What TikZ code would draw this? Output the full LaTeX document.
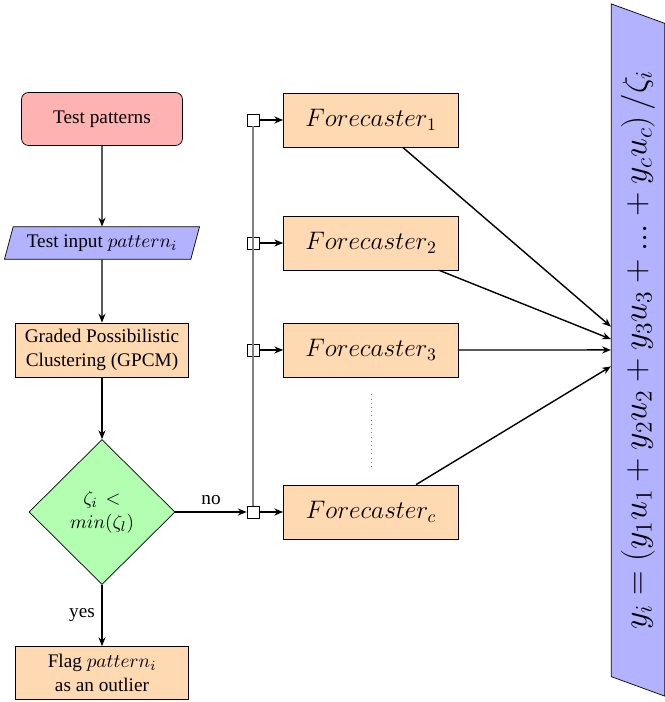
\documentclass[tikz,border=0pt,11pt]{standalone}
\usepackage{graphicx}
\usepackage[no-math]{fontspec}
\setmainfont{Liberation Serif}
\usetikzlibrary{shapes.geometric,arrows.meta}

\begin{document}
\begin{tikzpicture}[
            node distance = 2cm,
            startstop/.style={rectangle,rounded corners,draw,fill=red!30,
                minimum width=3.22cm,minimum height=1.06cm},
            io/.style={trapezium,trapezium left angle=75,trapezium right angle=105,
                draw,fill=blue!30,minimum height=0.6cm},
            process/.style={rectangle,draw,fill=orange!30,align=center,
                minimum width=3.46cm,minimum height=1.06cm},
            decision/.style={diamond,draw,fill=green!30,align=center,
                minimum width=2.92cm,minimum height=2.9cm,inner sep=0pt},
            forecaster/.style={process,minimum width=3.5cm,minimum height=1.08cm,
                font=\Large},
            joint/.style={rectangle,draw,fill=white,minimum size=0.24cm,inner sep=0pt},
            arrow/.style={thick,-{Stealth[length=5pt,width=4pt]}}]
            \useasboundingbox (0,0) rectangle (13.28,-14.04);
            % left column
            \node[startstop] at (2.04,-2.38) (test){Test patterns};
            \node[io,below of=test,node distance=2.48cm,minimum width=3.9cm](input){Test input $pattern_i$};
            \node[process,below of=input,node distance=2.14cm](gpcm){Graded Possibilistic\\Clustering (GPCM)};
            \node[decision,below of=gpcm,node distance=3.24cm](dec){$\zeta_i$ \,$<$\\$min(\zeta_l)$};
            \node[process,below of=dec,node distance=3.22cm](flag){Flag $pattern_i$\\as an outlier};
            % forecasters
            \node[joint,right of=dec,node distance=3.02cm](jc){};
            \node[forecaster,right of=jc,node distance=2.36cm](fc){$Forecaster_c$};
            \node[forecaster,above of=fc,node distance=3.24cm](f3){$Forecaster_3$};
            \node[forecaster,above of=f3,node distance=2.14cm](f2){$Forecaster_2$};
            \node[forecaster,above of=f2,node distance=2.46cm](f1){$Forecaster_1$};
            \node[joint,left of=f3,node distance=2.36cm](j3){};
            \node[joint,left of=f2,node distance=2.36cm](j2){};
            \node[joint,left of=f1,node distance=2.36cm](j1){};
            % output
            \coordinate[right of=f3,node distance=5.34cm](outpos);
            \node[io,rotate=90,trapezium left angle=70,trapezium right angle=110,
                minimum width=13.9cm,minimum height=1cm,font=\huge]
                at (outpos) (out)
                {\scalebox{0.93}{$y_i = \left(y_1u_1 + y_2u_2 + y_3u_3 + ... + y_cu_c\right)/\zeta_i$}};

            \draw[gray,thick] (j1) -- (jc);
            \draw[gray,dotted] ([yshift=-0.34cm]f3.south) -- ([yshift=0.34cm]fc.north);

            \path[arrow] (test) edge (input)
            (input) edge (gpcm)
            (gpcm) edge (dec)
            (dec) edge node[left]{yes} (flag)
            (dec) edge node[above]{no} (jc)
            (j1) edge (f1)
            (j2) edge (f2)
            (j3) edge (f3)
            (jc) edge (fc)
            (f1) edge (out)
            (f2) edge (out)
            (f3) edge (out)
            (fc) edge (out);
            \end{tikzpicture}
\end{document}
